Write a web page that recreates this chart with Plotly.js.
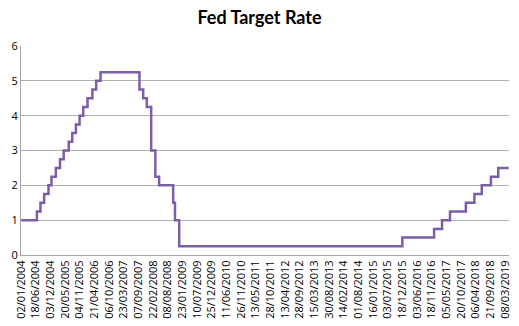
<!DOCTYPE html>
<html>
<head>
<meta charset="utf-8">
<script src="https://cdn.plot.ly/plotly-3.0.1.min.js"></script>
<style>html,body{margin:0;padding:0;background:#fff;}#chart{width:519px;height:326px;}</style>
</head>
<body>
<div id="chart"></div>
<script>
// Dates when the target rate changed (value holds until next date)
const changeDates = [
  "2004-01-02","2004-06-30","2004-08-10","2004-09-21","2004-11-10","2004-12-14",
  "2005-02-02","2005-03-22","2005-05-03","2005-06-30","2005-08-09","2005-09-20",
  "2005-11-01","2005-12-13","2006-01-31","2006-03-28","2006-05-10","2006-06-29",
  "2007-09-18","2007-10-31","2007-12-11","2008-01-30","2008-03-18",
  "2008-04-30","2008-10-08","2008-10-29","2008-12-16","2015-12-16","2016-12-14",
  "2017-03-15","2017-06-14","2017-12-13","2018-03-21","2018-06-13","2018-09-26",
  "2018-12-19","2019-04-19"
];
const rates = [
  1.00,1.25,1.50,1.75,2.00,2.25,
  2.50,2.75,3.00,3.25,3.50,3.75,
  4.00,4.25,4.50,4.75,5.00,5.25,
  4.75,4.50,4.25,3.00,2.25,
  2.00,1.50,1.00,0.25,0.50,0.75,
  1.00,1.25,1.50,1.75,2.00,2.25,
  2.50,2.50
];
const tickLabels = [
  "02/01/2004","18/06/2004","03/12/2004","20/05/2005","04/11/2005","21/04/2006",
  "06/10/2006","23/03/2007","07/09/2007","22/02/2008","08/08/2008","23/01/2009",
  "10/07/2009","25/12/2009","11/06/2010","26/11/2010","13/05/2011","28/10/2011",
  "13/04/2012","28/09/2012","15/03/2013","30/08/2013","14/02/2014","01/08/2014",
  "16/01/2015","03/07/2015","18/12/2015","03/06/2016","18/11/2016","05/05/2017",
  "20/10/2017","06/04/2018","21/09/2018","08/03/2019"
];
const tickVals = tickLabels.map(s => { const p = s.split("/"); return p[2]+"-"+p[1]+"-"+p[0]; });

const trace = {
  x: changeDates, y: rates, type: "scatter", mode: "lines",
  line: {color: "#7b5ea7", width: 2.5, shape: "hv"},
  hoverinfo: "skip"
};
const layout = {
  width: 519, height: 326,
  margin: {l: 21, r: 10, t: 46, b: 71},
  paper_bgcolor: "#fff", plot_bgcolor: "#fff",
  showlegend: false,
  title: {text: "<b>Fed Target Rate</b>", x: 0.5, xanchor: "center", y: 0.945, yanchor: "middle",
          font: {family: "Lato, 'Open Sans', sans-serif", size: 18, color: "#000"}},
  xaxis: {
    type: "date", range: ["2003-12-31", "2019-04-21"],
    tickmode: "array", tickvals: tickVals, ticktext: tickLabels, tickangle: -90,
    showgrid: false, showline: true, linecolor: "#a6a6a6", linewidth: 1,
    ticks: "", zeroline: false,
    tickfont: {family: "'Open Sans', sans-serif", size: 11, color: "#000"}
  },
  yaxis: {
    range: [0, 6], dtick: 1, tick0: 0,
    showgrid: true, gridcolor: "#b0b0b0", gridwidth: 1,
    showline: true, linecolor: "#a6a6a6", zeroline: false, ticks: "",
    tickfont: {family: "'Open Sans', sans-serif", size: 11, color: "#000"}
  }
};
Plotly.newPlot("chart", [trace], layout, {staticPlot: true, displayModeBar: false});
</script>
</body>
</html>
